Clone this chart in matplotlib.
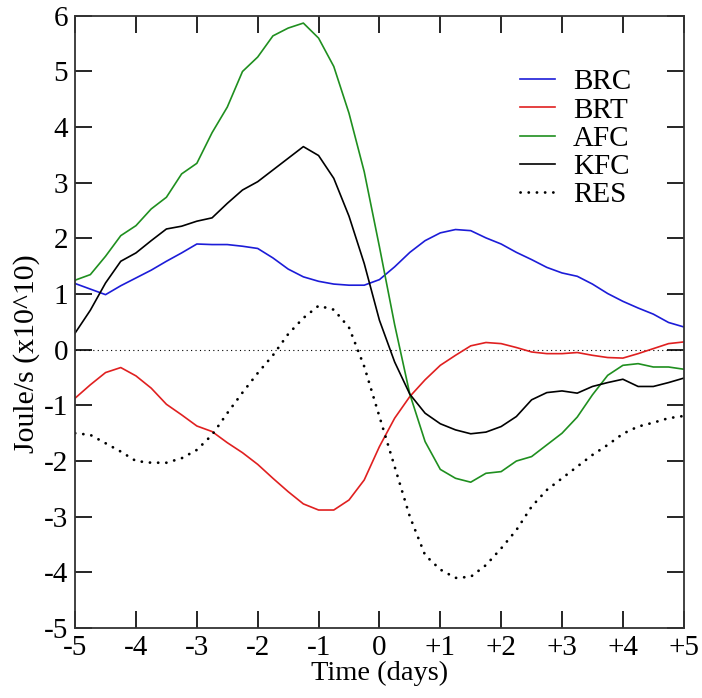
import numpy as np
import matplotlib
matplotlib.use("Agg")
import matplotlib.pyplot as plt

# Zeitachse: -5 ... +5 Tage, Schritt 0.25
t = np.arange(-5, 5.001, 0.25)

brc = [1.19, 1.09, 0.99, 1.15, 1.29, 1.43, 1.59, 1.74, 1.90, 1.89, 1.89, 1.86, 1.82,
       1.65, 1.45, 1.31, 1.23, 1.18, 1.16, 1.16, 1.26, 1.49, 1.75, 1.96, 2.10, 2.16,
       2.14, 2.01, 1.90, 1.75, 1.62, 1.48, 1.38, 1.32, 1.18, 1.01, 0.87, 0.75, 0.64,
       0.49, 0.41]
brt = [-0.87, -0.63, -0.41, -0.32, -0.47, -0.69, -0.98, -1.17, -1.37, -1.47, -1.67,
       -1.85, -2.06, -2.31, -2.55, -2.77, -2.88, -2.88, -2.70, -2.34, -1.74, -1.23,
       -0.84, -0.54, -0.28, -0.10, 0.07, 0.13, 0.11, 0.04, -0.04, -0.07, -0.07, -0.05,
       -0.10, -0.14, -0.15, -0.07, 0.02, 0.11, 0.14]
afc = [1.25, 1.35, 1.68, 2.05, 2.23, 2.53, 2.74, 3.16, 3.35, 3.90, 4.36, 5.00, 5.26,
       5.64, 5.78, 5.87, 5.60, 5.09, 4.25, 3.20, 1.85, 0.45, -0.80, -1.65, -2.15,
       -2.31, -2.38, -2.22, -2.19, -2.00, -1.92, -1.71, -1.50, -1.21, -0.81, -0.46,
       -0.28, -0.25, -0.31, -0.31, -0.35]
kfc = [0.30, 0.71, 1.20, 1.59, 1.74, 1.96, 2.17, 2.22, 2.31, 2.37, 2.63, 2.87, 3.02,
       3.23, 3.44, 3.65, 3.49, 3.08, 2.40, 1.55, 0.53, -0.22, -0.80, -1.14, -1.33,
       -1.44, -1.51, -1.48, -1.38, -1.20, -0.90, -0.77, -0.74, -0.78, -0.66, -0.59,
       -0.53, -0.66, -0.66, -0.59, -0.51]
res = [-1.50, -1.53, -1.68, -1.83, -2.00, -2.03, -2.03, -1.95, -1.80, -1.53, -1.14,
       -0.77, -0.42, -0.10, 0.28, 0.57, 0.79, 0.72, 0.40, -0.30, -1.20, -2.10, -3.00,
       -3.69, -3.95, -4.10, -4.08, -3.87, -3.57, -3.24, -2.82, -2.52, -2.31, -2.10,
       -1.89, -1.71, -1.51, -1.38, -1.31, -1.23, -1.19]

xticks = [-5, -4, -3, -2, -1, 0, 1, 2, 3, 4, 5]
xticklabels = ["-5", "-4", "-3", "-2", "-1", "0", "+1", "+2", "+3", "+4", "+5"]
yticks = list(range(-5, 7))

plt.rcParams["font.family"] = ["Liberation Serif", "DejaVu Serif"]
plt.rcParams["axes.unicode_minus"] = False

fig = plt.figure(figsize=(7.02, 6.98), dpi=100)
ax = fig.add_axes([0.107, 0.1003, 0.867, 0.877])

ax.axhline(0, color="black", linewidth=0.8, linestyle=(0, (1, 3)))
ax.plot(t, brc, color="#1c1cd8", linewidth=1.2, label="BRC")
ax.plot(t, brt, color="#e02020", linewidth=1.2, label="BRT")
ax.plot(t, afc, color="#1f8f1f", linewidth=1.2, label="AFC")
ax.plot(t, kfc, color="black", linewidth=1.2, label="KFC")
ax.plot(t, res, color="black", linewidth=2.0, linestyle=(0, (0.05, 2.9)),
        dash_capstyle="round", label="RES")

ax.set_xlim(-5, 5)
ax.set_ylim(-5, 6)
ax.set_xticks(xticks)
ax.set_xticklabels(xticklabels)
ax.set_yticks(yticks)
ax.tick_params(direction="in", length=12, width=1.2, top=True, right=True,
               labelsize=21, pad=5)
for s in ax.spines.values():
    s.set_linewidth(1.3)
    s.set_color("#333333")

ax.set_xlabel("Time (days)", fontsize=20.5, labelpad=0)
ax.set_ylabel("Joule/s (x10^10)", fontsize=21.5)
ax.yaxis.set_label_coords(-0.058, 0.449)

leg = ax.legend(loc="upper left", bbox_to_anchor=(0.688, 0.956), frameon=False,
                fontsize=21, handlelength=1.2, labelspacing=0.06, handletextpad=0.62)

fig.savefig("out.png", dpi=100)
